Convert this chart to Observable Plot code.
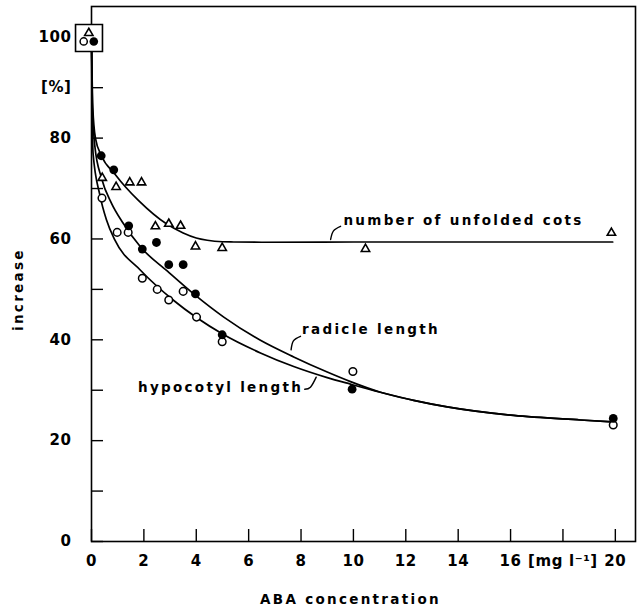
<!DOCTYPE html>
<html><head><meta charset="utf-8">
<script src="https://cdn.jsdelivr.net/npm/d3@7"></script>
<script src="https://cdn.jsdelivr.net/npm/@observablehq/plot@0.6"></script>
<style>
body{margin:0;background:#fff;}
svg text{letter-spacing:2.3px;}
g[aria-label="x-axis tick label"] text, g[aria-label="y-axis tick label"] text{letter-spacing:0.6px;}
</style></head><body><div id="chart"></div>
<script>
// measured points: number of unfolded cots (open triangles)
const cotsX = [0.41, 0.94, 1.46, 1.91, 2.44, 2.95, 3.40, 3.97, 4.99, 10.46, 19.85];
const cotsY = [72.1, 70.3, 71.2, 71.2, 62.5, 63.0, 62.6, 58.5, 58.2, 58.0, 61.2];
// radicle length (filled circles)
const radX = [0.37, 0.85, 1.42, 1.94, 2.48, 2.95, 3.50, 3.97, 4.99, 9.95, 19.92];
const radY = [76.5, 73.7, 62.6, 58.0, 59.3, 54.9, 54.9, 49.1, 41.0, 30.2, 24.4];
// hypocotyl length (open circles)
const hypX = [0.40, 0.98, 1.40, 1.94, 2.51, 2.95, 3.50, 4.01, 4.99, 9.98, 19.92];
const hypY = [68.1, 61.3, 61.3, 52.2, 50.0, 47.9, 49.6, 44.5, 39.6, 33.7, 23.1];

// fitted curves
const cotsCurveX = [0, 0.05, 0.15, 0.38, 0.89, 1.3, 1.8, 2.86, 3.5, 4.0, 4.42, 5.0, 5.43, 6.5, 10, 15, 19.9];
const cotsCurveY = [100, 86, 80, 76.5, 72.9, 70.3, 67.6, 63.0, 61.2, 60.2, 59.75, 59.45, 59.4, 59.35, 59.4, 59.4, 59.4];
const radCurveX = [0, 0.03, 0.13, 0.38, 0.76, 1.21, 1.89, 2.9, 3.97, 5.05, 6.45, 7.72, 9.0, 9.89, 11.03, 12.3, 13.58, 16.12, 18.67, 19.94];
const radCurveY = [100, 87, 78.3, 72.1, 67.1, 63.1, 58.3, 53.6, 48.8, 44.5, 39.9, 36.6, 33.6, 31.7, 29.6, 28.0, 26.7, 25.0, 24.1, 23.7];
const hypCurveX = [0, 0.02, 0.06, 0.32, 0.57, 0.89, 1.87, 3.14, 4.99, 6.45, 7.72, 9.0, 9.89, 11.03, 12.3, 13.58, 16.12, 18.67, 19.94];
const hypCurveY = [100, 88, 77, 68.7, 63.8, 59.8, 53.8, 47.8, 41.2, 37.4, 34.7, 32.5, 31.2, 29.6, 28.0, 26.7, 25.0, 24.1, 23.7];

// reference point (100 %) shown in a box with the three symbols
const refPoint = [{x: 0, y: 100}];

// tick values and labels
const xTicks = [0, 2, 4, 6, 8, 10, 12, 14, 16, 18, 20];
const xTickLabels = ["0", "2", "4", "6", "8", "10", "12", "14", "16", "[mg l\u207B\u00B9]", "20"];
const yTicks = [0, 10, 20, 30, 40, 50, 60, 70, 80, 90, 100];
const yTickLabels = ["0", "", "20", "", "40", "", "60", "", "80", "[%]", "100"];

// curve annotations
const labelNames = ["number of unfolded cots", "radicle length", "hypocotyl length"];
const labelX = [9.62, 8.04, 8.08];
const labelY = [63.65, 41.96, 30.6];
const labelAnchor = ["start", "start", "end"];
const leaderX = [[9.13, 9.24, 9.51], [7.62, 7.71, 7.98], [8.14, 8.36, 8.58]];
const leaderY = [[59.9, 61.6, 62.5], [38.0, 39.8, 40.7], [30.2, 30.6, 32.6]];

const toPts = (xs, ys) => xs.map((x, i) => ({x, y: ys[i]}));
const curves = [
  ...toPts(cotsCurveX, cotsCurveY).map(d => ({...d, s: "cots"})),
  ...toPts(radCurveX, radCurveY).map(d => ({...d, s: "rad"})),
  ...toPts(hypCurveX, hypCurveY).map(d => ({...d, s: "hyp"}))
];
const leaders = leaderX.flatMap((xs, k) => xs.map((x, i) => ({x, y: leaderY[k][i], k})));
const labels = labelNames.map((t, i) => ({t, x: labelX[i], y: labelY[i], a: labelAnchor[i]}));

const font = "DejaVu Sans";
const chart = Plot.plot({
  width: 641,
  height: 613,
  marginLeft: 91,
  marginRight: 6,
  marginTop: 6,
  marginBottom: 72,
  style: {fontFamily: font, fontSize: "15px", fontWeight: "bold", color: "#000", background: "#fff"},
  x: {domain: [0, 20.77]},
  y: {domain: [0, 106.1]},
  marks: [
    Plot.frame({stroke: "#000", strokeWidth: 1.6}),
    Plot.axisX({ticks: xTicks, tickSize: -12, tickFormat: () => "", strokeWidth: 1.4, label: null}),
    Plot.axisX({ticks: xTicks, tickSize: 0, tickPadding: 14, tickFormat: d => xTickLabels[xTicks.indexOf(d)], label: null}),
    Plot.axisY({ticks: yTicks, tickSize: -12, tickFormat: () => "", strokeWidth: 1.4, label: null}),
    Plot.axisY({ticks: yTicks, tickSize: 0, tickPadding: 20, tickFormat: d => yTickLabels[yTicks.indexOf(d)], label: null}),
    Plot.line(curves, {x: "x", y: "y", z: "s", curve: "monotone-x", stroke: "#000", strokeWidth: 1.7}),
    Plot.line(leaders, {x: "x", y: "y", z: "k", curve: "natural", stroke: "#000", strokeWidth: 1.4}),
    Plot.dot(toPts(cotsX, cotsY), {x: "x", y: "y", symbol: "triangle", r: 3.1, stroke: "#000", strokeWidth: 1.6, fill: "#fff"}),
    Plot.dot(toPts(hypX, hypY), {x: "x", y: "y", symbol: "circle", r: 3.8, stroke: "#000", strokeWidth: 1.5, fill: "#fff"}),
    Plot.dot(toPts(radX, radY), {x: "x", y: "y", symbol: "circle", r: 4.4, fill: "#000", stroke: "none"}),
    // reference box at 100 %
    Plot.dot(refPoint, {x: "x", y: "y", symbol: "square", r: 15.2, dx: -2.5, dy: 0.7, stroke: "#000", strokeWidth: 1.6, fill: "#fff"}),
    Plot.dot(refPoint, {x: "x", y: "y", symbol: "triangle", r: 3.1, dx: -2.7, dy: -4.2, stroke: "#000", strokeWidth: 1.6, fill: "#fff"}),
    Plot.dot(refPoint, {x: "x", y: "y", symbol: "circle", r: 3.6, dx: -7.8, dy: 4.2, stroke: "#000", strokeWidth: 1.5, fill: "#fff"}),
    Plot.dot(refPoint, {x: "x", y: "y", symbol: "circle", r: 4.3, dx: 2.3, dy: 4.2, fill: "#000", stroke: "none"}),
    Plot.text(labels, {x: "x", y: "y", text: "t", textAnchor: "start", filter: d => d.a === "start", fontSize: 13.5, fill: "#000"}),
    Plot.text(labels, {x: "x", y: "y", text: "t", textAnchor: "end", filter: d => d.a === "end", fontSize: 13.5, fill: "#000"}),
    Plot.text(["ABA concentration"], {frameAnchor: "bottom", dx: -13, dy: 62, fontSize: 13.5, fill: "#000"}),
    Plot.text(["increase"], {frameAnchor: "left", rotate: -90, dx: -73, dy: 57, fontSize: 13.5, fill: "#000"})
  ]
});
document.getElementById("chart").appendChild(chart);
</script>
</body></html>
